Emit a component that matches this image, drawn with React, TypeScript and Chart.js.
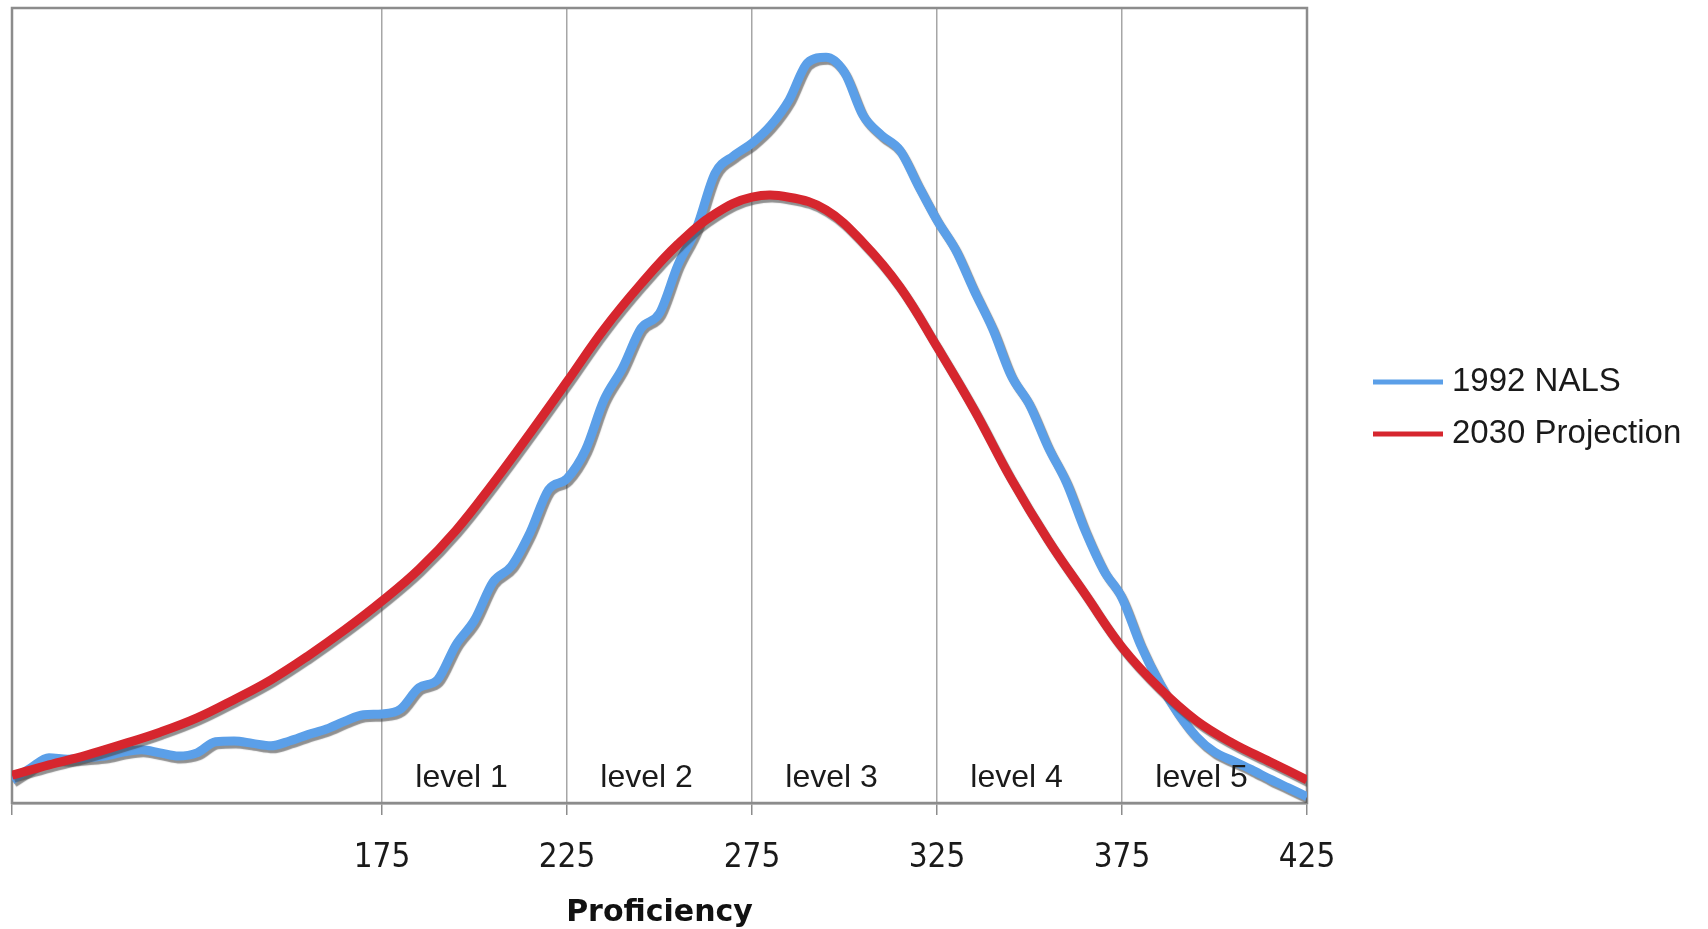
import React, { useEffect, useRef } from "react";
import { Chart, registerables } from "chart.js";

Chart.register(...registerables);

const nalsX = [
  75, 80, 85, 90, 95, 100, 105, 110, 115, 120, 125, 130, 135, 140, 145, 150,
  155, 160, 165, 170, 175, 180, 185, 190, 195, 200, 205, 210, 215, 220, 225,
  230, 235, 240, 245, 250, 255, 260, 265, 270, 275, 280, 285, 290, 295, 300,
  305, 310, 315, 320, 325, 330, 335, 340, 345, 350, 355, 360, 365, 370, 375,
  380, 385, 390, 395, 400, 405, 410, 415, 420, 425,
];

const nals1992 = [
  2.9, 4.4, 5.7, 5.5, 5.7, 5.9, 6.4, 6.7, 6.3, 5.9, 6.3, 7.7, 7.8, 7.5, 7.2,
  7.8, 8.6, 9.3, 10.3, 11.1, 11.2, 11.8, 14.5, 15.5, 19.9, 23.0, 27.8, 29.8,
  34.0, 39.4, 40.8, 44.4, 50.7, 54.7, 59.7, 61.6, 67.7, 72.3, 79.2, 81.4, 83.0,
  85.2, 88.4, 93.1, 93.8, 91.9, 86.5, 84.0, 82.1, 77.6, 73.3, 69.6, 64.5, 59.7,
  53.8, 50.1, 44.8, 40.3, 34.3, 29.3, 25.8, 19.9, 15.2, 11.4, 8.4, 6.4, 5.3,
  4.2, 3.0, 1.9, 0.8,
];

const projectionX = [
  75, 85, 95, 105, 115, 125, 135, 145, 155, 165, 175, 185, 195, 205, 215, 225,
  235, 245, 255, 265, 275, 285, 295, 305, 315, 325, 335, 345, 355, 365, 375,
  385, 395, 405, 415, 425,
];

const projection2030 = [
  3.5, 4.8, 6.0, 7.4, 8.9, 10.7, 13.0, 15.5, 18.5, 21.8, 25.4, 29.4, 34.3,
  40.2, 46.5, 53.0, 59.6, 65.3, 70.3, 74.1, 76.2, 76.2, 74.6, 70.5, 64.9, 57.4,
  49.5, 40.8, 33.1, 26.3, 19.6, 14.5, 10.4, 7.5, 5.2, 2.9,
];

const seriesLabels = ["1992 NALS", "2030 Projection"];
const seriesColors = ["#5b9fe8", "#d6262e"];

const xTickValues = [75, 175, 225, 275, 325, 375, 425];
const xTickLabels = ["", "175", "225", "275", "325", "375", "425"];
const xAxisTitle = "Proficiency";

const levelLabels = ["level 1", "level 2", "level 3", "level 4", "level 5"];
const levelCenters = [196.5, 246.5, 296.5, 346.5, 396.5];

export default function App() {
  const canvasRef = useRef<HTMLCanvasElement | null>(null);

  useEffect(() => {
    if (!canvasRef.current) return;

    const borderPlugin = {
      id: "plotBorder",
      beforeDatasetsDraw(chart: any) {
        const { ctx, chartArea } = chart;
        ctx.save();
        ctx.strokeStyle = "#8c8c8c";
        ctx.lineWidth = 2.5;
        ctx.strokeRect(
          chartArea.left,
          chartArea.top,
          chartArea.right - chartArea.left,
          chartArea.bottom - chartArea.top
        );
        ctx.restore();
        ctx.save();
        ctx.shadowColor = "rgba(70,70,70,0.6)";
        ctx.shadowOffsetX = 2;
        ctx.shadowOffsetY = 3;
        ctx.shadowBlur = 1;
      },
      afterDatasetsDraw(chart: any) {
        const { ctx, scales } = chart;
        ctx.restore();
        ctx.save();
        ctx.fillStyle = "#1a1a1a";
        ctx.font = "32px 'Liberation Sans', Arial, sans-serif";
        ctx.textAlign = "center";
        ctx.textBaseline = "middle";
        const y = scales.y.getPixelForValue(3.5) + 3;
        levelLabels.forEach((t, i) => {
          ctx.fillText(t, scales.x.getPixelForValue(levelCenters[i]), y);
        });
        ctx.restore();
      },
      afterDraw(chart: any) {
        const { ctx } = chart;
        ctx.save();
        ctx.font = "33px 'Liberation Sans', Arial, sans-serif";
        ctx.textBaseline = "middle";
        ctx.textAlign = "left";
        const rows = [382, 434];
        chart.data.datasets.forEach((ds: any, i: number) => {
          const yy = rows[i];
          ctx.fillStyle = ds.borderColor;
          ctx.fillRect(1373, yy - 2.5, 70, 5);
          ctx.fillStyle = "#1a1a1a";
          ctx.fillText(ds.label, 1452, yy);
        });
        ctx.restore();
      },
    };

    const chart = new Chart(canvasRef.current, {
      type: "line",
      data: {
        datasets: [
          {
            label: seriesLabels[0],
            data: nalsX.map((x, i) => ({ x, y: nals1992[i] })),
            borderColor: seriesColors[0],
            backgroundColor: seriesColors[0],
            borderWidth: 9,
            pointRadius: 0,
            cubicInterpolationMode: "monotone",
            order: 1,
          },
          {
            label: seriesLabels[1],
            data: projectionX.map((x, i) => ({ x, y: projection2030[i] })),
            borderColor: seriesColors[1],
            backgroundColor: seriesColors[1],
            borderWidth: 9,
            pointRadius: 0,
            tension: 0.4,
            order: 0,
          },
        ],
      },
      options: {
        animation: false,
        responsive: true,
        maintainAspectRatio: false,
        devicePixelRatio: 1,
        layout: { padding: { left: 12, top: 8, right: 401, bottom: 0 } },
        plugins: {
          legend: { display: false },
          tooltip: { enabled: false },
        },
        scales: {
          x: {
            type: "linear",
            min: 75,
            max: 425,
            afterBuildTicks(scale: any) {
              scale.ticks = xTickValues.map((v) => ({ value: v }));
            },
            afterFit(scale: any) {
              scale.height = 126;
              scale.paddingLeft = 0;
              scale.paddingRight = 0;
            },
            grid: {
              color: "#a6a6a6",
              lineWidth: 1.5,
              drawTicks: true,
              tickLength: 12,
              tickColor: "#8c8c8c",
            },
            border: { color: "#8c8c8c", width: 2.5 },
            ticks: {
              padding: 24,
              color: "#1a1a1a",
              font: { family: "'DejaVu Sans Condensed', 'DejaVu Sans', sans-serif", size: 33 },
              maxRotation: 0,
              autoSkip: false,
              callback(value: any) {
                const idx = xTickValues.indexOf(Number(value));
                return idx >= 0 ? xTickLabels[idx] : "";
              },
            },
            title: {
              display: true,
              text: xAxisTitle,
              color: "#111",
              font: { family: "'DejaVu Sans', sans-serif", size: 30, weight: "bold" },
              padding: { top: 0, bottom: -2 },
            },
          },
          y: {
            display: false,
            min: 0,
            max: 100,
          },
        },
      },
      plugins: [borderPlugin],
    } as any);

    return () => chart.destroy();
  }, []);

  return (
    <div style={{ position: "absolute", left: 0, top: 0, width: 1708, height: 929, background: "#fff" }}>
      <canvas ref={canvasRef} />
    </div>
  );
}
